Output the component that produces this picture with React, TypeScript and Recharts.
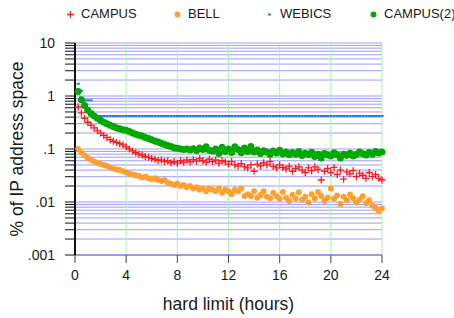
import { ScatterChart, Scatter, XAxis, YAxis, CartesianGrid, Label } from "recharts";

const hours = [
  0.25, 0.5, 0.75, 1, 1.25, 1.5, 1.75, 2, 2.25, 2.5, 2.75, 3, 3.25, 3.5, 3.75, 4,
  4.25, 4.5, 4.75, 5, 5.25, 5.5, 5.75, 6, 6.25, 6.5, 6.75, 7, 7.25, 7.5, 7.75, 8,
  8.25, 8.5, 8.75, 9, 9.25, 9.5, 9.75, 10, 10.25, 10.5, 10.75, 11, 11.25, 11.5, 11.75, 12,
  12.25, 12.5, 12.75, 13, 13.25, 13.5, 13.75, 14, 14.25, 14.5, 14.75, 15, 15.25, 15.5, 15.75, 16,
  16.25, 16.5, 16.75, 17, 17.25, 17.5, 17.75, 18, 18.25, 18.5, 18.75, 19, 19.25, 19.5, 19.75, 20,
  20.25, 20.5, 20.75, 21, 21.25, 21.5, 21.75, 22, 22.25, 22.5, 22.75, 23, 23.25, 23.5, 23.75, 24,
];

const campus = [
  0.62, 0.48, 0.38, 0.32, 0.28, 0.25, 0.22, 0.2, 0.18, 0.165, 0.15, 0.14, 0.133, 0.126, 0.12, 0.11,
  0.1, 0.092, 0.085, 0.08, 0.077, 0.072, 0.07, 0.066, 0.064, 0.061, 0.062, 0.058, 0.06, 0.055, 0.058, 0.054,
  0.06, 0.056, 0.062, 0.057, 0.063, 0.059, 0.066, 0.06, 0.056, 0.064, 0.058, 0.062, 0.054, 0.06, 0.057, 0.052,
  0.058, 0.05, 0.048, 0.053, 0.046, 0.044, 0.05, 0.038, 0.052, 0.048, 0.055, 0.05, 0.058, 0.047, 0.044, 0.05,
  0.045, 0.042, 0.047, 0.038, 0.043, 0.046, 0.04, 0.036, 0.044, 0.039, 0.046, 0.041, 0.026, 0.038, 0.043, 0.036,
  0.045, 0.033, 0.04, 0.027, 0.037, 0.034, 0.039, 0.03, 0.035, 0.032, 0.028, 0.036, 0.03, 0.033, 0.028, 0.026,
];

const bell = [
  0.1, 0.085, 0.075, 0.068, 0.063, 0.058, 0.055, 0.052, 0.05, 0.048, 0.045, 0.043, 0.041, 0.04, 0.038, 0.036,
  0.034, 0.033, 0.032, 0.031, 0.029, 0.03, 0.028, 0.027, 0.028, 0.026, 0.025, 0.026, 0.023, 0.022, 0.021, 0.022,
  0.02, 0.021, 0.019, 0.02, 0.018, 0.019, 0.017, 0.018, 0.016, 0.018, 0.017, 0.016, 0.018, 0.015, 0.017, 0.016,
  0.014, 0.017, 0.016, 0.018, 0.013, 0.014, 0.013, 0.016, 0.012, 0.0135, 0.016, 0.0125, 0.0118, 0.015, 0.0128, 0.0115,
  0.0155, 0.012, 0.0105, 0.0135, 0.0115, 0.0152, 0.011, 0.0125, 0.0098, 0.014, 0.0118, 0.0155, 0.0128, 0.0105, 0.012, 0.018,
  0.0115, 0.0132, 0.0092, 0.0125, 0.0108, 0.0138, 0.0118, 0.0098, 0.0112, 0.0128, 0.0095, 0.0108, 0.0085, 0.0078, 0.0068, 0.0075,
];

const webics = [
  1.7, 1.25, 0.83, 0.83, 0.83, 0.42, 0.42, 0.42, 0.42, 0.42, 0.42, 0.42, 0.42, 0.42, 0.42, 0.42,
  0.42, 0.42, 0.42, 0.42, 0.42, 0.42, 0.42, 0.42, 0.42, 0.42, 0.42, 0.42, 0.42, 0.42, 0.42, 0.42,
  0.42, 0.42, 0.42, 0.42, 0.42, 0.42, 0.42, 0.42, 0.42, 0.42, 0.42, 0.42, 0.42, 0.42, 0.42, 0.42,
  0.42, 0.42, 0.42, 0.42, 0.42, 0.42, 0.42, 0.42, 0.42, 0.42, 0.42, 0.42, 0.42, 0.42, 0.42, 0.42,
  0.42, 0.42, 0.42, 0.42, 0.42, 0.42, 0.42, 0.42, 0.42, 0.42, 0.42, 0.42, 0.42, 0.42, 0.42, 0.42,
  0.42, 0.42, 0.42, 0.42, 0.42, 0.42, 0.42, 0.42, 0.42, 0.42, 0.42, 0.42, 0.42, 0.42, 0.42, 0.42,
];

const campus2 = [
  1.22, 0.85, 0.66, 0.54, 0.47, 0.42, 0.38, 0.35, 0.32, 0.3, 0.28, 0.265, 0.25, 0.24, 0.232, 0.225,
  0.215, 0.2, 0.19, 0.182, 0.175, 0.165, 0.158, 0.15, 0.142, 0.135, 0.128, 0.122, 0.117, 0.112, 0.106, 0.103,
  0.1, 0.098, 0.1, 0.096, 0.101, 0.094, 0.105, 0.098, 0.11, 0.095, 0.092, 0.1, 0.082, 0.108, 0.09, 0.1,
  0.086, 0.11, 0.098, 0.085, 0.104, 0.09, 0.112, 0.088, 0.096, 0.082, 0.093, 0.088, 0.079, 0.092, 0.084, 0.095,
  0.081, 0.088, 0.078, 0.086, 0.08, 0.09, 0.075, 0.083, 0.079, 0.087, 0.072, 0.08, 0.068, 0.082, 0.077, 0.074,
  0.085, 0.078, 0.068, 0.08, 0.076, 0.083, 0.074, 0.079, 0.088, 0.081, 0.077, 0.086, 0.08, 0.09, 0.084, 0.088,
];

const xTicks = [0, 4, 8, 12, 16, 20, 24];
const yTicks = [
  0.001, 0.002, 0.003, 0.004, 0.005, 0.006, 0.007, 0.008, 0.009,
  0.01, 0.02, 0.03, 0.04, 0.05, 0.06, 0.07, 0.08, 0.09,
  0.1, 0.2, 0.3, 0.4, 0.5, 0.6, 0.7, 0.8, 0.9,
  1, 2, 3, 4, 5, 6, 7, 8, 9, 10,
];
const yLabels: Record<string, string> = { "0.001": ".001", "0.01": ".01", "0.1": ".1", "1": "1", "10": "10" };

const toPoints = (vals: number[]) => hours.map((h, i) => ({ h, v: vals[i] }));

const RED = "#ff1a1a";
const ORANGE = "#ffa030";
const BLUE = "#2b7bd6";
const GREEN = "#00a800";

const PlusShape = ({ cx, cy }: any) => (
  <path d={`M${cx - 3.5},${cy}H${cx + 3.5}M${cx},${cy - 3.5}V${cy + 3.5}`} stroke={RED} strokeWidth={1.3} />
);
const DotShape = (color: string, r: number) => ({ cx, cy }: any) => <circle cx={cx} cy={cy} r={r} fill={color} />;
const SquareShape = ({ cx, cy }: any) => <rect x={cx - 1.6} y={cy - 1} width={3.2} height={2} fill={BLUE} />;

const legendItems = [
  { name: "CAMPUS", left: 66, kind: "plus", color: RED },
  { name: "BELL", left: 173, kind: "dot", color: ORANGE },
  { name: "WEBICS", left: 265, kind: "square", color: BLUE },
  { name: "CAMPUS(2)", left: 369, kind: "dot", color: GREEN },
];

const LegendMark = ({ kind, color }: { kind: string; color: string }) => (
  <svg width={9} height={9} style={{ marginRight: 6 }}>
    {kind === "plus" && <path d="M1,4.5H8M4.5,1V8" stroke={color} strokeWidth={1.3} />}
    {kind === "dot" && <circle cx={4.5} cy={4.5} r={3} fill={color} />}
    {kind === "square" && <rect x={3} y={3.5} width={3} height={2} fill={color} />}
  </svg>
);

const YTitle = ({ viewBox }: any) => {
  const cx = 17;
  const cy = viewBox.y + viewBox.height / 2;
  return (
    <text x={cx} y={cy} transform={`rotate(-90 ${cx} ${cy})`} textAnchor="middle" dominantBaseline="central"
      fontSize={17.5} fill="#1a1a1a">
      % of IP address space
    </text>
  );
};

export default function App() {
  return (
    <div style={{ position: "absolute", left: 0, top: 0, width: 454, height: 318, background: "#fff",
      fontFamily: "'Liberation Sans', Arial, sans-serif" }}>
      <div style={{ position: "absolute", top: 5, left: 0, width: 454, height: 18 }}>
        {legendItems.map((it) => (
          <div key={it.name} style={{ position: "absolute", left: it.left, top: 0, display: "flex",
            alignItems: "center", fontSize: 13, color: "#1a1a1a", lineHeight: "18px" }}>
            <LegendMark kind={it.kind} color={it.color} />
            {it.name}
          </div>
        ))}
      </div>
      <ScatterChart width={454} height={318} margin={{ top: 43, right: 72, bottom: 0, left: 0 }}
        style={{ fontFamily: "'Liberation Sans', Arial, sans-serif" }}>
        <CartesianGrid vertical={false} stroke="#9c9cf0" strokeDasharray="" />
        <CartesianGrid horizontal={false} stroke="#aef0ae" strokeDasharray="" />
        <XAxis
          dataKey="h"
          type="number"
          domain={[0, 24]}
          ticks={xTicks}
          interval={0}
          height={63}
          tickSize={8}
          tickMargin={7}
          axisLine={{ stroke: "#9a9ae6", strokeWidth: 2 }}
          tickLine={{ stroke: "#444" }}
          tick={{ fill: "#1a1a1a", fontSize: 14 }}
        >
          <Label value="hard limit (hours)" position="insideBottom" offset={8} fontSize={17.5} fill="#1a1a1a" />
        </XAxis>
        <YAxis
          dataKey="v"
          type="number"
          scale="log"
          domain={[0.001, 10]}
          allowDataOverflow
          ticks={yTicks}
          interval={0}
          width={75}
          tickSize={10}
          tickMargin={10}
          tickFormatter={(v: number) => yLabels[String(v)] ?? ""}
          axisLine={{ stroke: "#111", strokeWidth: 2 }}
          tickLine={{ stroke: "#111" }}
          tick={{ fill: "#1a1a1a", fontSize: 14 }}
        >
          <Label content={<YTitle />} />
        </YAxis>
        <Scatter name="CAMPUS" data={toPoints(campus)} shape={PlusShape} isAnimationActive={false} />
        <Scatter name="BELL" data={toPoints(bell)} shape={DotShape(ORANGE, 3)} isAnimationActive={false} />
        <Scatter name="WEBICS" data={toPoints(webics)} shape={SquareShape} isAnimationActive={false} />
        <Scatter name="CAMPUS(2)" data={toPoints(campus2)} shape={DotShape(GREEN, 3.5)} isAnimationActive={false} />
      </ScatterChart>
    </div>
  );
}
